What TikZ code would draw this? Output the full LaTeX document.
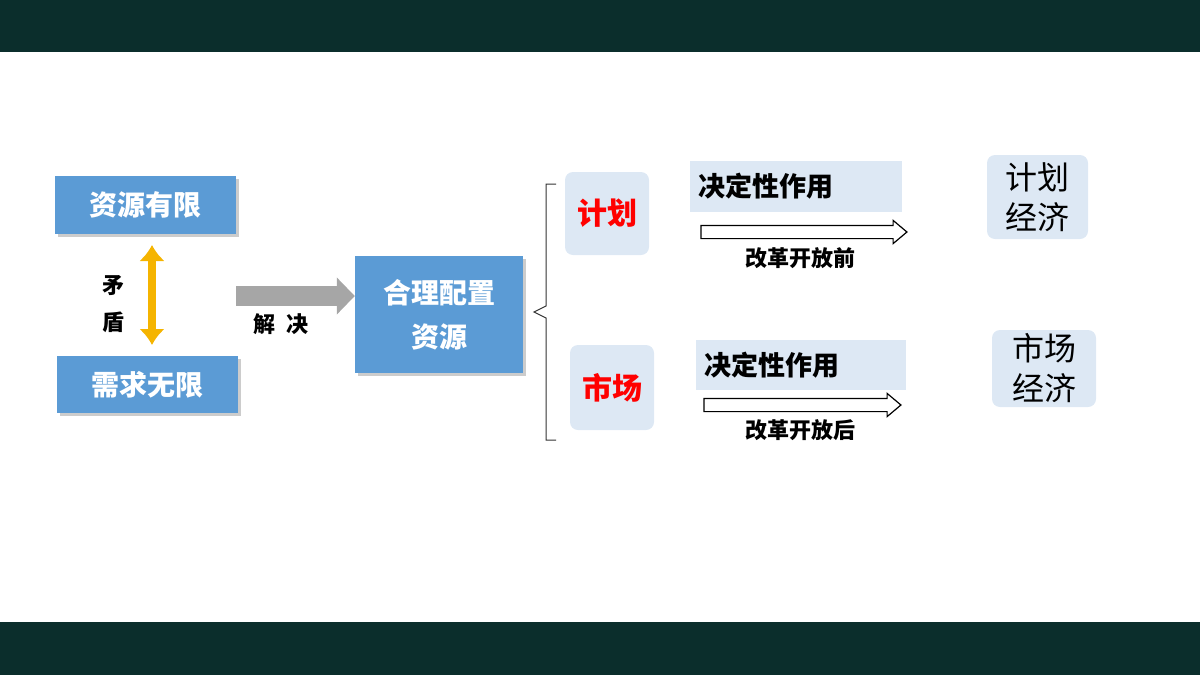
\documentclass[tikz,border=0pt]{standalone}
\usepackage{fontspec}
\setmainfont{Noto Sans CJK SC}
\newfontfamily\cjk{Noto Sans CJK SC}
\usetikzlibrary{arrows.meta,shapes.arrows,decorations.pathreplacing,shadows}
\definecolor{band}{HTML}{0B2E2C}
\definecolor{bluebox}{HTML}{5B9BD5}
\definecolor{lightb}{HTML}{DDE8F4}
\definecolor{orng}{HTML}{F5B400}
\tikzset{
 bluenode/.style={fill=bluebox,text=white,inner sep=0pt,font=\fontsize{28}{30}\selectfont\bfseries,drop shadow={shadow xshift=3pt,shadow yshift=-3pt,opacity=0.4}},
 lightnode/.style={fill=lightb,rounded corners=8pt,inner sep=0pt},
 rectnode/.style={fill=lightb,inner sep=0pt},
 txt/.style={font=\fontsize{22}{24}\selectfont\bfseries,inner sep=0pt},
 hollow/.style={single arrow,draw=black,fill=white,line width=1.2pt,minimum width=22pt,single arrow head extend=5pt,inner xsep=0pt,inner ysep=6pt,single arrow tip angle=80}
}
\begin{document}
\begin{tikzpicture}[x=1pt,y=-1pt]
\useasboundingbox (0,0) rectangle (1200,675);
\fill[band] (0,0) rectangle (1200,52);
\fill[band] (0,622) rectangle (1200,675);
\node[bluenode,minimum width=181pt,minimum height=58pt] (r1) at (145.5,205) {资源有限};
\node[bluenode,minimum width=181pt,minimum height=57pt] (r2) at (147.5,384.5) {需求无限};
\draw[orng,line width=8pt,-{Latex[length=16pt,width=26pt]}] (152,295) -- (152,245);
\draw[orng,line width=8pt,-{Latex[length=16pt,width=26pt]}] (152,295) -- (152,345);
\node[txt] (m1) at (113,286) {矛};
\node[txt] (m2) at (113,322) {盾};
\node[bluenode,minimum width=168pt,minimum height=117pt,align=center,font=\fontsize{28}{44}\selectfont\bfseries] (hl) at (439,314.5) {合理配置\\资源};
\coordinate (ga) at (236,296);
\draw[gray!70,line width=20pt,-{Triangle[length=18pt,width=36pt]}] (ga) -- (hl.west |- ga);
\node[txt] (jj) at (281,324) {解\ \ 决};
\coordinate (b1) at (556,184);
\coordinate (b2) at (556,440);
\draw[black!80,line width=1pt] (b1) -- (546,184) -- (546,306) -- (534,312) -- (546,318) -- (546,440) -- (b2);
\node[lightnode,minimum width=84pt,minimum height=83pt,text=red,font=\fontsize{30}{32}\selectfont\bfseries] (jh) at (607,213.5) {计划};
\node[lightnode,minimum width=84pt,minimum height=85pt,text=red,font=\fontsize{30}{32}\selectfont\bfseries] (sc) at (612,387.5) {市场};
\node[rectnode,minimum width=212pt,minimum height=51pt,font=\fontsize{27}{30}\selectfont\bfseries,text width=196pt,align=left] (d1) at (796,186.5) {决定性作用};
\node[rectnode,minimum width=210pt,minimum height=50pt,font=\fontsize{27}{30}\selectfont\bfseries,text width=194pt,align=left] (d2) at (801,365) {决定性作用};
\node[hollow,minimum height=206pt] (a1) at (800,232) {};
\node[hollow,minimum height=197pt] (a2) at (798.5,405) {};
\node[txt] (l1) at (800,258) {改革开放前};
\node[txt] (l2) at (800,430) {改革开放后};
\node[lightnode,minimum width=101pt,minimum height=84pt,align=center,font=\fontsize{32}{40}\selectfont] (e1) at (1037.5,197) {计划\\经济};
\node[lightnode,minimum width=104pt,minimum height=77pt,align=center,font=\fontsize{32}{40}\selectfont] (e2) at (1044,368.5) {市场\\经济};
\end{tikzpicture}
\end{document}
